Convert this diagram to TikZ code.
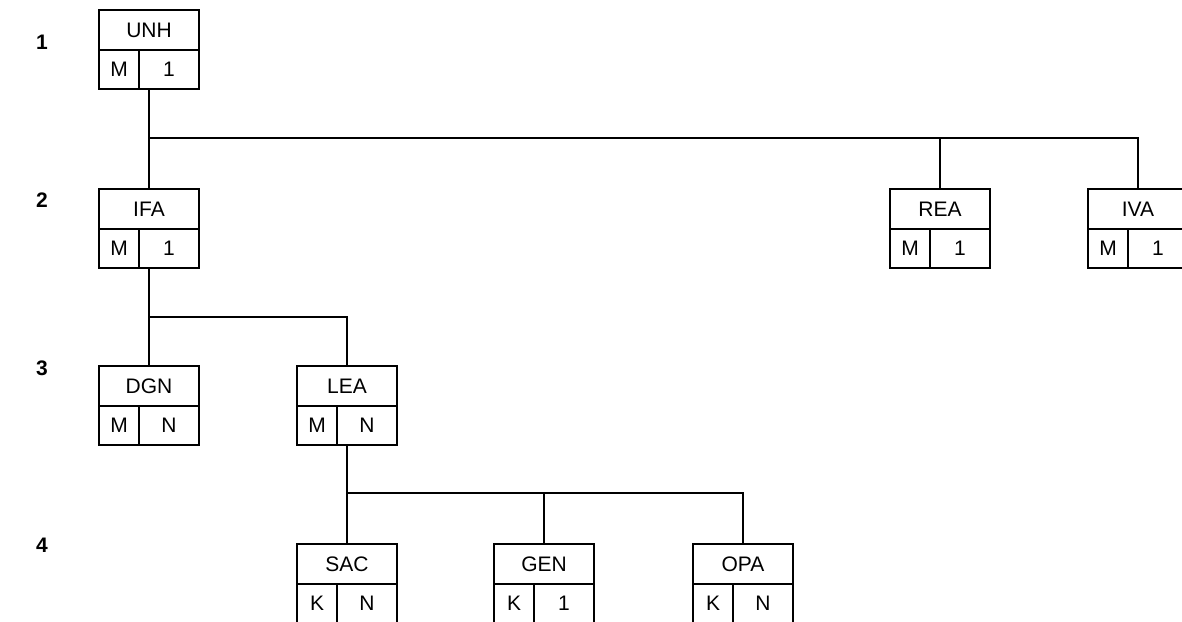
\documentclass[tikz,border=0pt]{standalone}
\usepackage{fontspec}
\setmainfont{Liberation Sans}
\usetikzlibrary{positioning}

\begin{document}
\begin{tikzpicture}[
  x=0.5pt,
  y=-0.5pt,
  every node/.style={font=\fontsize{10.5}{12}\selectfont},
  cell/.style={draw, line width=1.4pt, inner sep=0pt, outer sep=0pt},
  namecell/.style={cell, minimum width=50pt, minimum height=20pt},
  keycell/.style={cell, minimum width=20pt, minimum height=19.5pt},
  cardcell/.style={cell, minimum width=30pt, minimum height=19.5pt},
  link/.style={line width=1.3pt},
  level/.style={font=\fontsize{10.5}{12}\selectfont\bfseries}
]
  \useasboundingbox (0,0) rectangle (1182,621);
  \clip (0,0) rectangle (1182,621);

  % name, centre of name cell, text, key, cardinality
  \def\entity#1#2#3#4#5{
    \node[namecell] (#1) at #2 {#3};
    \node[keycell, below right=0pt and 0pt of #1.south west] (#1-key) {#4};
    \node[cardcell, right=0pt of #1-key] (#1-card) {#5};
    \coordinate (#1-b) at (#1.south |- #1-card.south);
  }

  \node[level] (lv1) at (42,42) {1};
  \node[level] (lv2) at (42,200) {2};
  \node[level] (lv3) at (42,368) {3};
  \node[level] (lv4) at (42,545) {4};

  \entity{unh}{(149,30)}{UNH}{M}{1}
  \entity{ifa}{(149,209)}{IFA}{M}{1}
  \entity{rea}{(940,209)}{REA}{M}{1}
  \entity{iva}{(1138,209)}{IVA}{M}{1}
  \entity{dgn}{(149,386)}{DGN}{M}{N}
  \entity{lea}{(347,386)}{LEA}{M}{N}
  \entity{sac}{(347,564)}{SAC}{K}{N}
  \entity{gen}{(544,564)}{GEN}{K}{1}
  \entity{opa}{(743,564)}{OPA}{K}{N}

  \coordinate (bus1) at (149,138);
  \coordinate (bus2) at (149,317);
  \coordinate (bus3) at (347,493);

  \draw[link] (unh-b) -- (ifa.north);
  \draw[link] (bus1) -| (rea.north);
  \draw[link] (bus1) -| (iva.north);

  \draw[link] (ifa-b) -- (dgn.north);
  \draw[link] (bus2) -| (lea.north);

  \draw[link] (lea-b) -- (sac.north);
  \draw[link] (bus3) -| (gen.north);
  \draw[link] (bus3) -| (opa.north);
\end{tikzpicture}
\end{document}
